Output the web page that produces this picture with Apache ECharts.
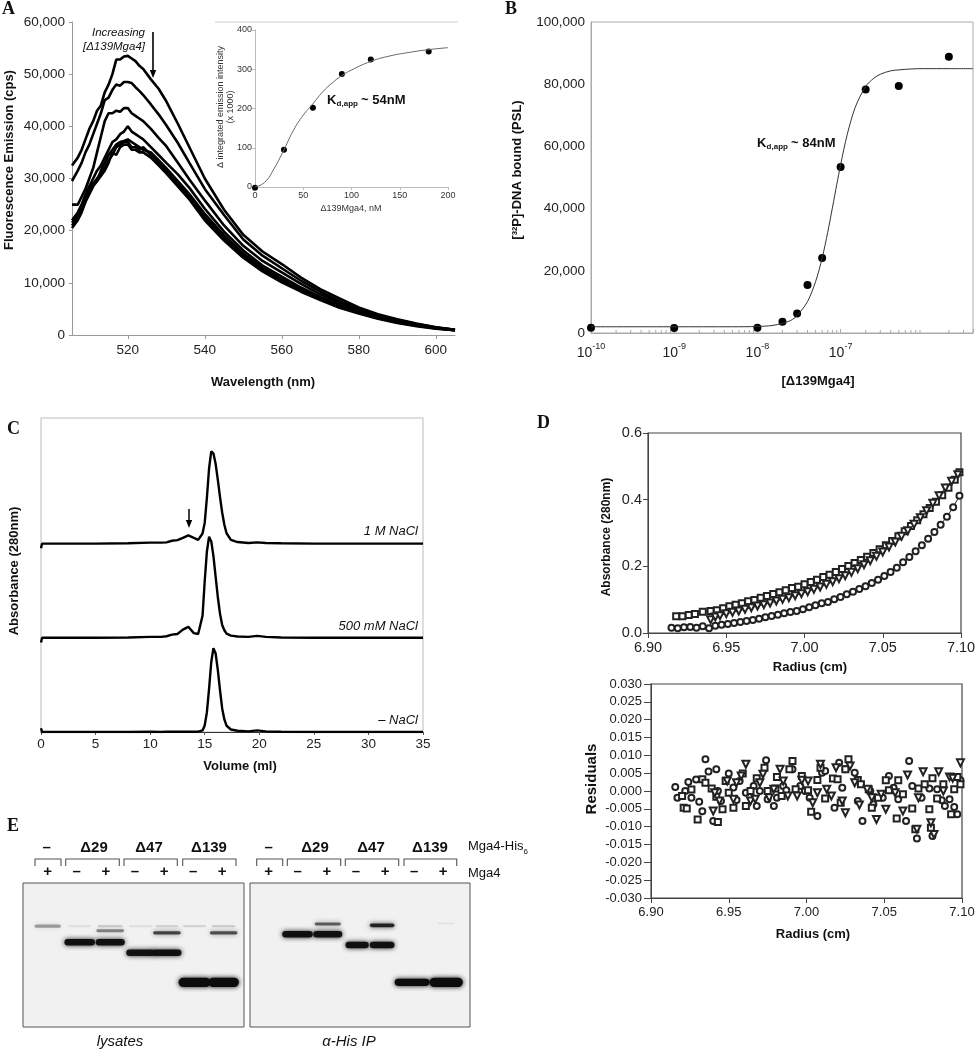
<!DOCTYPE html>
<html><head><meta charset="utf-8">
<script src="https://cdn.jsdelivr.net/npm/echarts@6/dist/echarts.min.js"></script>
<style>html,body{margin:0;padding:0;background:#fff}#c{width:979px;height:1050px}</style>
</head><body><div id="c"></div>
<script>
// ---------------- DATA ----------------
// Panel A: emission spectra (7 titration points)
const wavelength = [505.5,507,508,509,510,511,512,513,514,515,516,517,518,519,520,521,522,523,524,526,528,530,533,536,540,545,550,555,560,565,570,575,580,585,590,595,600,605];
const spec1 = [32500,34000,35500,37500,39500,41000,43000,44000,46500,48000,50000,52800,52800,53400,53500,53000,52500,51600,51000,49000,47200,44800,40500,36000,30000,24000,19200,16000,13600,11000,8800,7000,5300,4000,3000,2200,1500,1000];
const spec2 = [29500,31500,33000,35000,36500,38500,40500,42500,45000,45500,47000,48000,47800,48500,48500,48300,47500,46800,46000,44200,42300,40200,36800,33000,28000,23000,18300,15200,12800,10400,8300,6500,5000,3800,2900,2100,1500,1000];
const spec3 = [25000,25000,26500,28000,30000,32000,35000,38000,41000,42500,42500,43000,42800,43500,43500,42500,42000,41500,41000,39500,37800,36200,33000,29800,25800,21000,17100,14200,12000,9800,7800,6200,4800,3600,2700,2000,1400,1000];
const spec4 = [22000,23500,25000,27000,28500,30000,31500,32500,34000,35500,37000,37500,38500,39000,40000,39000,38500,38000,37500,36000,34500,33000,30800,28200,24200,19800,16200,13300,11200,9100,7300,5800,4500,3400,2600,1900,1400,900];
const spec5 = [21500,23000,24500,26500,28500,29000,29500,31500,33000,34500,35500,36500,37000,37200,37500,37000,36500,36000,35500,35000,33500,32000,29500,27000,23200,19100,15600,12800,10700,8800,7100,5600,4400,3300,2500,1900,1300,900];
const spec6 = [21000,22500,24000,26000,27500,29000,30000,31000,32000,33500,34500,36000,36500,37000,37000,36000,36000,35500,36000,34500,33000,31500,29000,26500,22600,18600,15100,12500,10400,8500,6900,5400,4200,3200,2400,1800,1300,900];
const spec7 = [20500,22000,23500,25500,27000,28500,29500,30500,31500,33000,35000,34500,36000,36500,36500,35500,35500,35000,35000,34000,32500,31000,28500,26000,22000,18100,14800,12200,10100,8300,6700,5200,4100,3100,2300,1700,1200,900];
const xTicksA = [520,540,560,580,600];
// Panel A inset
const insetConc = [0,30,60,90,120,180];
const insetSignal = [-2,95,202,288,325,345];
const insetFitX = [0,10,20,30,40,50,60,70,80,90,100,120,140,160,180,200];
const insetFitY = [0,12,48,95,145,183,212,242,265,284,298,320,334,343,350,355];
// Panel B
const bConc = [1e-10,1e-9,1e-8,2e-8,3e-8,4e-8,6e-8,1e-7,2e-7,5e-7,2e-6];
const bSignal = [1700,1600,1700,3600,6300,15400,24100,53400,78300,79400,88800];
const bFitX = [1e-10,1e-9,5e-9,1e-8,1.5e-8,2e-8,2.5e-8,3e-8,4e-8,5e-8,6e-8,7e-8,8e-8,9e-8,1e-7,1.2e-7,1.5e-7,2e-7,2.5e-7,3e-7,4e-7,5e-7,7e-7,1e-6,2e-6,3.9e-6];
const bFitY = [2000,2000,2000,2100,2400,3100,4000,5600,10100,16500,24100,32400,40500,47800,54100,63800,72600,79300,81900,83200,84300,84600,84900,85000,85000,85000];
const bDecades = [1e-10,1e-9,1e-8,1e-7,1e-6];
// Panel C: gel filtration traces
const volume = [0,0.1,2,5,8,10,11,11.5,12,12.5,13,13.5,14,14.4,14.8,15.0,15.2,15.4,15.6,15.8,16.0,16.2,16.4,16.6,16.8,17.0,17.4,18,19,19.8,20.6,22,25,30,35];
const trace1M   = [-1.5,0,0,0,0.1,0.3,0.3,0.4,0.9,1.1,1.8,2.6,1.8,1.2,3.2,6.6,14.6,24,29.4,28.7,25.4,20.4,14.9,9.9,6.0,3.3,1.2,0.5,0.2,0.4,0.2,0.1,0,0,0];
const trace500  = [-1.5,0,0,0,0.1,0.3,0.3,0.5,1.0,1.2,2.6,3.5,1.5,1.2,7,18,27.5,32.2,30.7,26,19.5,13,7.7,4.1,2.4,1.3,0.7,0.4,0.3,0.6,0.3,0.1,0,0,0];
const traceNone = [1.2,0,0,0,0,0.1,0,0.1,0.1,0.1,0.1,0.1,0.1,0.1,0.5,2.1,6.3,13.8,22.3,26.7,25,19.8,13.3,7.5,4,2,0.8,0.4,0.2,0.5,0.2,0.1,0,0,0];
const traceNames = ['1 M NaCl','500 mM NaCl','\u2013 NaCl'];
const traceOffsets = [60,30,0];
// Panel D: sedimentation equilibrium
const dSquares = [[6.918,0.050],[6.922,0.050],[6.926,0.054],[6.930,0.057],[6.935,0.064],[6.940,0.066],[6.944,0.068],[6.948,0.074],[6.952,0.080],[6.956,0.085],[6.960,0.089],[6.964,0.095],[6.968,0.099],[6.972,0.106],[6.976,0.111],[6.980,0.117],[6.984,0.122],[6.988,0.128],[6.992,0.135],[6.996,0.139],[7.000,0.146],[7.004,0.153],[7.008,0.160],[7.012,0.168],[7.016,0.175],[7.020,0.183],[7.024,0.192],[7.028,0.201],[7.032,0.210],[7.036,0.219],[7.040,0.229],[7.044,0.240],[7.048,0.251],[7.052,0.263],[7.056,0.276],[7.060,0.290],[7.064,0.305],[7.068,0.321],[7.072,0.338],[7.076,0.356],[7.080,0.375],[7.084,0.394],[7.088,0.413],[7.092,0.436],[7.096,0.460],[7.099,0.482]];
const dTriangles = [[6.940,0.040],[6.943,0.048],[6.946,0.052],[6.950,0.058],[6.954,0.062],[6.958,0.066],[6.962,0.071],[6.966,0.076],[6.970,0.081],[6.974,0.085],[6.978,0.090],[6.982,0.096],[6.986,0.101],[6.990,0.106],[6.994,0.112],[6.998,0.118],[7.002,0.124],[7.006,0.131],[7.010,0.138],[7.014,0.146],[7.018,0.154],[7.022,0.163],[7.026,0.172],[7.030,0.182],[7.034,0.193],[7.038,0.205],[7.042,0.217],[7.046,0.230],[7.050,0.243],[7.054,0.258],[7.058,0.273],[7.062,0.290],[7.066,0.307],[7.070,0.326],[7.074,0.346],[7.078,0.367],[7.082,0.389],[7.086,0.412],[7.090,0.435],[7.094,0.455],[7.098,0.475]];
const dCircles = [[6.915,0.016],[6.919,0.014],[6.923,0.017],[6.927,0.018],[6.931,0.016],[6.935,0.020],[6.939,0.014],[6.943,0.022],[6.947,0.025],[6.951,0.027],[6.955,0.030],[6.959,0.033],[6.963,0.036],[6.967,0.039],[6.971,0.043],[6.975,0.047],[6.979,0.051],[6.983,0.055],[6.987,0.059],[6.991,0.063],[6.995,0.066],[6.999,0.071],[7.003,0.077],[7.007,0.083],[7.011,0.089],[7.015,0.093],[7.019,0.101],[7.023,0.108],[7.027,0.116],[7.031,0.124],[7.035,0.132],[7.039,0.140],[7.043,0.150],[7.047,0.160],[7.051,0.171],[7.055,0.183],[7.059,0.196],[7.063,0.212],[7.067,0.228],[7.071,0.245],[7.075,0.263],[7.079,0.283],[7.083,0.303],[7.087,0.325],[7.091,0.349],[7.095,0.377],[7.099,0.412]];
const rCircles = [[6.9156,0.0011],[6.917,-0.0019],[6.922,0],[6.924,0.0025],[6.926,-0.0019],[6.929,0.0032],[6.931,-0.003],[6.933,-0.0057],[6.935,0.0089],[6.937,0.0055],[6.940,-0.0084],[6.942,0.0061],[6.943,0],[6.945,-0.0028],[6.950,0.0049],[6.953,0.001],[6.955,-0.0025],[6.957,0.0028],[6.961,-0.0005],[6.966,0.0014],[6.968,-0.0042],[6.970,0],[6.974,0.0086],[6.975,-0.0023],[6.979,-0.0042],[6.981,-0.0019],[6.985,0.0014],[6.987,0.0002],[6.991,0.0061],[6.996,0.0014],[6.999,0],[7.002,-0.0019],[7.007,-0.007],[7.010,0.0051],[7.012,0.0056],[7.018,-0.0047],[7.021,0.0079],[7.023,0.0009],[7.025,0.0061],[7.031,0.0051],[7.033,-0.0028],[7.036,-0.0084],[7.041,0],[7.043,-0.0037],[7.049,-0.0019],[7.053,0.0042],[7.056,0.0009],[7.059,-0.0023],[7.064,-0.0084],[7.066,0.0084],[7.068,0.0014],[7.071,-0.0133],[7.074,-0.0019],[7.079,0.0007],[7.081,-0.0126],[7.084,0.0005],[7.087,-0.0026],[7.089,-0.0042],[7.092,-0.0023],[7.095,-0.0045],[7.097,-0.0065],[7.099,0.003]];
const rSquares = [[6.920,-0.0014],[6.921,-0.0047],[6.923,-0.0049],[6.926,0.0004],[6.930,-0.008],[6.933,0.0033],[6.935,0.0023],[6.939,0.0007],[6.942,-0.0016],[6.943,-0.0087],[6.946,-0.0051],[6.948,0.0028],[6.950,-0.0005],[6.953,-0.0047],[6.959,0.0049],[6.961,-0.0042],[6.964,0],[6.968,0.0036],[6.973,0.0065],[6.975,0],[6.980,0.0007],[6.981,0.0039],[6.984,-0.0014],[6.989,0.0061],[6.991,0.0084],[6.993,0.0005],[6.997,0.0042],[7.001,0.0002],[7.003,-0.0058],[7.007,0.0031],[7.009,0.0065],[7.012,-0.0021],[7.017,0.0035],[7.020,0.0033],[7.022,-0.0033],[7.025,0.0061],[7.027,0.0089],[7.033,0.0031],[7.035,0.0019],[7.040,0.0005],[7.042,-0.0047],[7.046,-0.0019],[7.051,0.003],[7.053,0.0002],[7.058,-0.0077],[7.059,0.003],[7.062,-0.0009],[7.068,-0.0049],[7.070,-0.0107],[7.072,0.0007],[7.076,0.0019],[7.079,-0.0051],[7.080,-0.0103],[7.081,0.0036],[7.084,-0.0021],[7.088,0.0019],[7.093,-0.0065],[7.095,0.0005],[7.097,0.0039],[7.099,0.0019]];
const rTriangles = [[6.940,-0.0056],[6.941,-0.0005],[6.944,-0.0028],[6.949,0.0028],[6.953,-0.0023],[6.955,0.0023],[6.958,0.0042],[6.961,0.0075],[6.964,-0.0028],[6.967,-0.0023],[6.970,0.0023],[6.972,0.0047],[6.976,-0.0019],[6.979,0.0005],[6.983,0.0061],[6.985,0.0028],[6.988,-0.0014],[6.994,-0.0014],[6.997,0.003],[7.001,0.0028],[7.004,-0.0033],[7.007,-0.0005],[7.009,0.0075],[7.013,0.0005],[7.016,-0.0014],[7.019,0.0065],[7.023,-0.0028],[7.025,-0.0061],[7.028,0.007],[7.031,0.0023],[7.034,-0.0039],[7.039,0.0005],[7.042,-0.0019],[7.045,-0.008],[7.048,-0.0009],[7.051,-0.0051],[7.057,-0.0005],[7.062,-0.0056],[7.065,0.0045],[7.071,-0.0107],[7.072,-0.0019],[7.075,0.0054],[7.080,-0.0089],[7.082,-0.0122],[7.085,0.0054],[7.088,0],[7.092,0.0039],[7.094,0.0036],[7.099,0.0079]];
// Panel E: western blot lanes and bands [lane, migration, width(lanes), thickness, darkness]
const eConstructs = ['\u2013','\u039429','\u039447','\u0394139'];
const eMga4 = ['+','\u2013','+','\u2013','+','\u2013','+'];
const eLysateBands = [[1.0,30,0.9,2.2,0.35],[2.1,30,0.8,1.5,0.08],[3.15,30,0.85,1.6,0.15],[3.15,33.2,0.95,2.0,0.45],[2.1,41.2,1.05,4.5,0.95],[3.15,41.2,1.0,4.5,0.95],[4.2,30,0.8,1.5,0.08],[4.2,48.4,1.0,4.5,0.92],[5.1,30,0.8,1.5,0.12],[5.1,34.6,0.95,2.2,0.7],[5.1,48.4,1.0,4.5,0.95],[6.05,30,0.8,1.5,0.12],[6.05,69,1.1,6.5,1.0],[7.05,69,1.05,6.5,1.0],[7.05,30,0.8,1.5,0.15],[7.05,34.6,0.95,2.2,0.65]];
const eIPBands = [[1.99,35.6,1.05,4.5,0.95],[3.03,35.6,1.0,4.5,0.95],[3.03,28.5,0.9,2.0,0.6],[4.04,43.1,0.8,4.5,0.95],[4.9,43.1,0.85,4.5,0.95],[4.9,29.4,0.85,2.5,0.85],[5.93,69,1.2,5.0,1.0],[7.1,69,1.15,6.5,1.0],[7.1,28,0.6,1.5,0.05]];

// ---------------- CHART ----------------
const FONT = '"Liberation Sans", Arial, Helvetica, sans-serif';
const SERIF = '"Liberation Serif", "Times New Roman", serif';
const zip = (xs, ys) => xs.map((x, i) => [x, ys[i]]);
const comma = v => Math.round(v).toLocaleString('en-US');

function T(text, x, y, o) {
  o = o || {};
  return {type:'text', x:x, y:y, rotation:o.rot || 0, silent:true, z:100,
    style:{text:text, fill:o.color || '#111', fontSize:o.size || 13, fontWeight:o.weight || 'normal',
      fontStyle:o.style || 'normal', fontFamily:o.family || FONT,
      align:o.align || 'center', verticalAlign:o.valign || 'middle',
      textAlign:o.align || 'center', textVerticalAlign:o.valign || 'middle'}};
}
function arrow(x, y1, y2, w) {
  return [{type:'line', silent:true, z:100, shape:{x1:x, y1:y1, x2:x, y2:y2 - 6}, style:{stroke:'#000', lineWidth:w || 1.6}},
          {type:'polygon', silent:true, z:100, shape:{points:[[x - 3.2, y2 - 8], [x + 3.2, y2 - 8], [x, y2]]}, style:{fill:'#000'}}];
}
function bracket(x1, x2) {
  return {type:'polyline', silent:true, z:100, shape:{points:[[x1, 866], [x1, 859], [x2, 859], [x2, 866]]}, style:{stroke:'#555', lineWidth:1.1, fill:null}};
}
function kText(x, y, rest) {
  return [T('K', x, y, {weight:'bold', size:13, align:'left'}),
          T('d,app', x + 9.6, y + 4, {weight:'bold', size:8, align:'left'}),
          T(' ~ ' + rest, x + 30.5, y, {weight:'bold', size:13, align:'left'})];
}

const axisGray = '#9a9a9a';
const grids = [
  {left:72, top:22, width:383, height:313},
  {left:255, top:30, width:193, height:157},
  {left:591, top:22, width:382, height:311, show:true, borderColor:'#aaa', borderWidth:1},
  {left:41, top:418, width:382, height:314, show:true, borderColor:'#bbb', borderWidth:1},
  {left:648, top:433, width:313, height:200, show:true, borderColor:'#444', borderWidth:1.2},
  {left:651, top:684, width:311, height:214, show:true, borderColor:'#444', borderWidth:1.2},
  {left:23, top:883, width:221, height:144, show:true, backgroundColor:'#f1f1f1', borderColor:'#555', borderWidth:1},
  {left:250, top:883, width:220, height:144, show:true, backgroundColor:'#f1f1f1', borderColor:'#555', borderWidth:1}
];
const lbl = (size, extra) => Object.assign({fontSize:size, color:'#222', fontFamily:FONT}, extra || {});

const xAxes = [
  {gridIndex:0, type:'value', min:505.5, max:605, splitLine:{show:false},
   axisLine:{lineStyle:{color:axisGray}}, axisTick:{customValues:xTicksA, length:4, lineStyle:{color:axisGray}},
   axisLabel:lbl(13.5, {customValues:xTicksA, margin:8})},
  {gridIndex:1, type:'value', min:0, max:200, interval:50, splitLine:{show:false},
   axisLine:{lineStyle:{color:'#bbb'}}, axisTick:{length:3, lineStyle:{color:'#bbb'}},
   axisLabel:lbl(9, {color:'#333', margin:4})},
  {gridIndex:2, type:'log', logBase:10, min:1e-10, max:3.9e-6, splitLine:{show:false}, minorTick:{show:false},
   axisLine:{lineStyle:{color:'#aaa'}}, axisTick:{inside:true, length:4, lineStyle:{color:'#aaa'}},
   axisLabel:{customValues:bDecades, showMaxLabel:false, margin:9,
     formatter: v => '{b|10}{s|' + Math.round(Math.log10(v)) + '}',
     rich:{b:{fontSize:14, fontFamily:FONT, color:'#222', lineHeight:18, verticalAlign:'bottom'},
           s:{fontSize:9, fontFamily:FONT, color:'#222', lineHeight:10, verticalAlign:'top'}}}},
  {gridIndex:3, type:'value', min:0, max:35, interval:5, splitLine:{show:false},
   axisLine:{lineStyle:{color:'#333', width:1.2}}, axisTick:{length:3, lineStyle:{color:'#555'}},
   axisLabel:lbl(13.5, {margin:5})},
  {gridIndex:4, type:'value', min:6.9, max:7.1, interval:0.05, splitLine:{show:false},
   axisLine:{onZero:false, lineStyle:{color:'#444'}}, axisTick:{length:5, lineStyle:{color:'#444'}},
   axisLabel:lbl(14.5, {margin:7, formatter:v => v.toFixed(2)})},
  {gridIndex:5, type:'value', min:6.9, max:7.1, interval:0.05, splitLine:{show:false},
   axisLine:{onZero:false, lineStyle:{color:'#444'}}, axisTick:{length:5, lineStyle:{color:'#444'}},
   axisLabel:lbl(13, {margin:8, formatter:v => v.toFixed(2)})},
  {gridIndex:6, type:'value', position:'top', min:0.15, max:7.75, splitLine:{show:false},
   axisLine:{show:false, onZero:false}, axisTick:{show:false},
   axisLabel:{customValues:[1,2,3,4,5,6,7], formatter:v => eMga4[Math.round(v) - 1], fontSize:15, fontWeight:'bold', color:'#111', fontFamily:FONT, margin:4}},
  {gridIndex:7, type:'value', position:'top', min:0.357, max:7.92, splitLine:{show:false},
   axisLine:{show:false, onZero:false}, axisTick:{show:false},
   axisLabel:{customValues:[1,2,3,4,5,6,7], formatter:v => eMga4[Math.round(v) - 1], fontSize:15, fontWeight:'bold', color:'#111', fontFamily:FONT, margin:4}}
];
const yAxes = [
  {gridIndex:0, type:'value', min:0, max:60000, interval:10000, splitLine:{show:false},
   axisLine:{show:true, lineStyle:{color:axisGray}}, axisTick:{show:true, length:3, lineStyle:{color:axisGray}},
   axisLabel:lbl(13.5, {margin:7, formatter:comma})},
  {gridIndex:1, type:'value', min:0, max:400, interval:100, splitLine:{show:false},
   axisLine:{show:true, lineStyle:{color:'#bbb'}}, axisTick:{show:true, length:3, lineStyle:{color:'#bbb'}},
   axisLabel:lbl(9, {color:'#333', margin:3})},
  {gridIndex:2, type:'value', min:0, max:100000, interval:20000, splitLine:{show:false},
   axisLine:{show:true, lineStyle:{color:'#aaa'}}, axisTick:{show:false},
   axisLabel:lbl(13.5, {margin:6, formatter:comma})},
  {gridIndex:3, type:'value', min:0, max:100, show:true, splitLine:{show:false},
   axisLine:{show:false}, axisTick:{show:false}, axisLabel:{show:false}},
  {gridIndex:4, type:'value', min:0, max:0.6, interval:0.2, splitLine:{show:false},
   axisLine:{show:true, lineStyle:{color:'#444'}}, axisTick:{show:true, length:5, lineStyle:{color:'#444'}},
   axisLabel:lbl(14.5, {margin:6, formatter:v => v.toFixed(1)})},
  {gridIndex:5, type:'value', min:-0.03, max:0.03, interval:0.005, splitLine:{show:false},
   axisLine:{show:true, onZero:false, lineStyle:{color:'#444'}}, axisTick:{show:true, length:7, lineStyle:{color:'#444'}},
   axisLabel:lbl(13, {margin:9, formatter:v => Math.abs(v) < 1e-9 ? '0.000' : v.toFixed(3)})},
  {gridIndex:6, type:'value', min:0, max:100, inverse:true, show:false},
  {gridIndex:7, type:'value', min:0, max:100, inverse:true, show:false}
];

const series = [];
[spec1, spec2, spec3, spec4, spec5, spec6, spec7].forEach(s => series.push({
  type:'line', xAxisIndex:0, yAxisIndex:0, data:zip(wavelength, s), symbol:'none', silent:true,
  lineStyle:{color:'#000', width:2.6}}));
series.push({type:'line', xAxisIndex:1, yAxisIndex:1, data:zip(insetFitX, insetFitY), smooth:true, symbol:'none', silent:true, lineStyle:{color:'#666', width:1}});
series.push({type:'scatter', xAxisIndex:1, yAxisIndex:1, data:zip(insetConc, insetSignal), symbolSize:6, itemStyle:{color:'#000', opacity:1}, clip:false});
series.push({type:'line', xAxisIndex:2, yAxisIndex:2, data:zip(bFitX, bFitY), smooth:0.3, symbol:'none', silent:true, lineStyle:{color:'#333', width:1}});
series.push({type:'scatter', xAxisIndex:2, yAxisIndex:2, data:zip(bConc, bSignal), symbolSize:8, itemStyle:{color:'#000', opacity:1}, clip:false});
// minor log ticks (2..9 within each decade)
const bMinor = [];
bDecades.forEach(d => { for (let k = 2; k <= 9; k++) { if (d * k <= 3.9e-6) bMinor.push([d * k, 0]); } });
series.push({type:'custom', xAxisIndex:2, yAxisIndex:2, data:bMinor, silent:true,
  renderItem:(p, api) => { const c = api.coord([api.value(0), 0]);
    return {type:'line', shape:{x1:c[0], y1:c[1], x2:c[0], y2:c[1] - 3}, style:{stroke:'#aaa', lineWidth:1}}; }});
[trace1M, trace500, traceNone].forEach((t, i) => series.push({
  type:'line', xAxisIndex:3, yAxisIndex:3, name:traceNames[i], data:volume.map((v, j) => [v, t[j] + traceOffsets[i]]),
  symbol:'none', silent:true, lineStyle:{color:'#000', width:2.4}}));
const dSyms = [['emptyRect', 0, 6], ['emptyTriangle', 180, 7], ['emptyCircle', 0, 6]];
[dSquares, dTriangles, dCircles].forEach((d, i) => series.push({
  type:'line', xAxisIndex:4, yAxisIndex:4, data:d, symbol:dSyms[i][0], symbolRotate:dSyms[i][1], symbolSize:dSyms[i][2],
  showSymbol:true, silent:true, lineStyle:{color:'#222', width:1}, itemStyle:{color:'#222', borderWidth:1, opacity:1}}));
[rCircles, rSquares, rTriangles].forEach((d, i) => {
  const s = [dSyms[2], dSyms[0], dSyms[1]][i];
  series.push({type:'scatter', xAxisIndex:5, yAxisIndex:5, data:d, symbol:s[0], symbolRotate:s[1], symbolSize:s[2],
    silent:true, itemStyle:{color:'#222', borderWidth:1, opacity:1}});
});
function bandItem(params, api) {
  const c = api.coord([api.value(0), api.value(1)]);
  const s = api.size([api.value(2), api.value(3)]);
  const w = Math.abs(s[0]), h = Math.abs(s[1]);
  const col = 'rgba(12,12,12,' + api.value(4) + ')';
  return {type:'rect', shape:{x:c[0] - w / 2, y:c[1] - h / 2, width:w, height:h, r:h / 2},
    style:{fill:col, shadowBlur:5, shadowColor:col}};
}
series.push({type:'custom', xAxisIndex:6, yAxisIndex:6, data:eLysateBands, renderItem:bandItem, silent:true, encode:{x:0, y:1}});
series.push({type:'custom', xAxisIndex:7, yAxisIndex:7, data:eIPBands, renderItem:bandItem, silent:true, encode:{x:0, y:1}});

// ---------------- ANNOTATIONS ----------------
const g = [];
g.push(T('A', 2, 0, {family:SERIF, weight:'bold', size:18, align:'left', valign:'top'}));
g.push(T('B', 505, 0, {family:SERIF, weight:'bold', size:18, align:'left', valign:'top'}));
g.push(T('C', 7, 420, {family:SERIF, weight:'bold', size:18, align:'left', valign:'top'}));
g.push(T('D', 537, 414, {family:SERIF, weight:'bold', size:18, align:'left', valign:'top'}));
g.push(T('E', 7, 817, {family:SERIF, weight:'bold', size:18, align:'left', valign:'top'}));
// A
g.push(T('Fluorescence Emission (cps)', 9, 160, {weight:'bold', rot:Math.PI / 2}));
g.push(T('Wavelength (nm)', 263, 382, {weight:'bold'}));
g.push(T('Increasing', 145, 33, {style:'italic', size:11.5, align:'right'}));
g.push(T('[\u0394139Mga4]', 145, 47, {style:'italic', size:11.5, align:'right'}));
arrow(153, 32, 78, 1.6).forEach(e => g.push(e));
g.push({type:'line', silent:true, shape:{x1:215, y1:22, x2:458, y2:22}, style:{stroke:'#d0d0d0', lineWidth:1}});
g.push(T('\u0394 integrated emission intensity', 221, 107, {size:9, color:'#333', rot:Math.PI / 2}));
g.push(T('(x 1000)', 231, 107, {size:9, color:'#333', rot:Math.PI / 2}));
g.push(T('\u0394139Mga4, nM', 351, 209, {size:9, color:'#333'}));
kText(327, 100, '54nM').forEach(e => g.push(e));
// B
g.push(T('[\u00b3\u00b2P]-DNA bound (PSL)', 517, 170, {weight:'bold', rot:Math.PI / 2}));
g.push(T('[\u0394139Mga4]', 818, 381, {weight:'bold'}));
kText(757, 143, '84nM').forEach(e => g.push(e));
// C
g.push(T(traceNames[0], 418, 531, {style:'italic', align:'right'}));
g.push(T(traceNames[1], 418, 626, {style:'italic', align:'right'}));
g.push(T(traceNames[2], 418, 720, {style:'italic', align:'right'}));
g.push(T('Absorbance (280nm)', 14, 571, {weight:'bold', rot:Math.PI / 2}));
g.push(T('Volume (ml)', 240, 766, {weight:'bold'}));
arrow(189, 509, 528, 1.5).forEach(e => g.push(e));
// D
g.push(T('Absorbance (280nm)', 607, 537, {weight:'bold', size:12, rot:Math.PI / 2}));
g.push(T('Radius (cm)', 810, 667, {weight:'bold'}));
g.push(T('Residuals', 592, 779, {weight:'bold', size:15, rot:Math.PI / 2}));
g.push(T('Radius (cm)', 813, 934, {weight:'bold'}));
// E
const eLeftX = [46.7, 94, 149, 209], eRightX = [268.7, 315, 371, 430];
eConstructs.forEach((c, i) => { g.push(T(c, eLeftX[i], 848, {weight:'bold', size:15})); g.push(T(c, eRightX[i], 848, {weight:'bold', size:15})); });
[[35, 61], [65.7, 119.3], [124, 177.3], [182.7, 236], [256.7, 282.7], [287.3, 340.7], [345.3, 398.7], [404, 456.7]].forEach(b => g.push(bracket(b[0], b[1])));
g.push({type:'text', x:468, y:848, silent:true, style:{text:'{a|Mga4-His}{s|6}', align:'left', verticalAlign:'middle', textAlign:'left', textVerticalAlign:'middle',
  rich:{a:{fontSize:13, fontFamily:FONT, fill:'#111', color:'#111', lineHeight:16, verticalAlign:'top'}, s:{fontSize:8, fontFamily:FONT, fill:'#111', color:'#111', lineHeight:8, verticalAlign:'bottom'}}}});
g.push(T('Mga4', 468, 873, {align:'left'}));
g.push(T('lysates', 120, 1042, {style:'italic', size:15}));
g.push(T('\u03b1-His IP', 349, 1042, {style:'italic', size:15}));

const chart = echarts.init(document.getElementById('c'), null, {renderer:'canvas'});
chart.setOption({
  animation:false, backgroundColor:'#fff', textStyle:{fontFamily:FONT},
  grid:grids, xAxis:xAxes, yAxis:yAxes, series:series, graphic:{elements:g}
});
</script></body></html>
